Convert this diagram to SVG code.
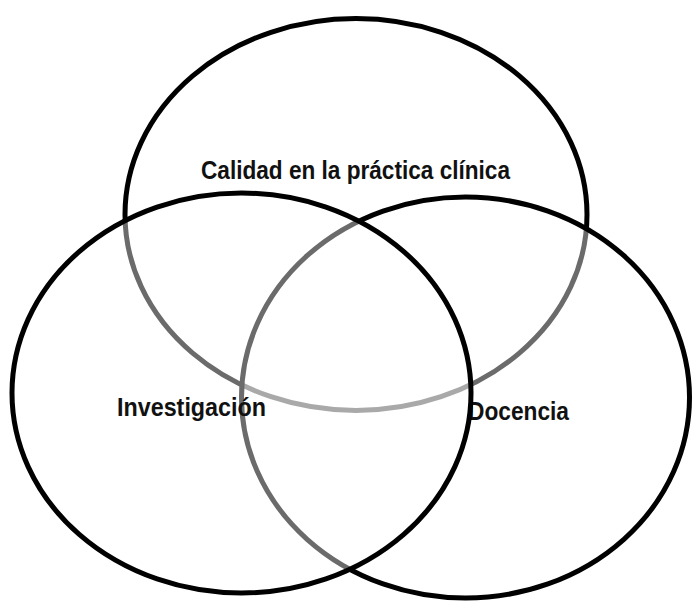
<svg xmlns="http://www.w3.org/2000/svg" width="695" height="605" viewBox="0 0 695 605">
<style>
.c{fill:#ffffff;fill-opacity:0.42;stroke:#000;stroke-width:5}
.t{font-family:"Liberation Sans",Arial,sans-serif;font-weight:bold;font-size:26px;fill:#111}
</style>
<rect width="695" height="605" fill="#fff"/>
<g id="calidad">
<ellipse class="c" cx="356" cy="214.5" rx="231" ry="196"/>
<text class="t" x="201" y="179" textLength="309" lengthAdjust="spacingAndGlyphs">Calidad en la práctica clínica</text>
</g>
<g id="docencia">
<ellipse class="c" cx="465.5" cy="397.5" rx="224" ry="200.5"/>
<text class="t" x="468" y="420" textLength="101" lengthAdjust="spacingAndGlyphs">Docencia</text>
</g>
<g id="investigacion">
<ellipse class="c" cx="241.5" cy="393" rx="229.5" ry="200"/>
<text class="t" x="117" y="416" textLength="149" lengthAdjust="spacingAndGlyphs">Investigación</text>
</g>
<g id="connectors"/>
</svg>
